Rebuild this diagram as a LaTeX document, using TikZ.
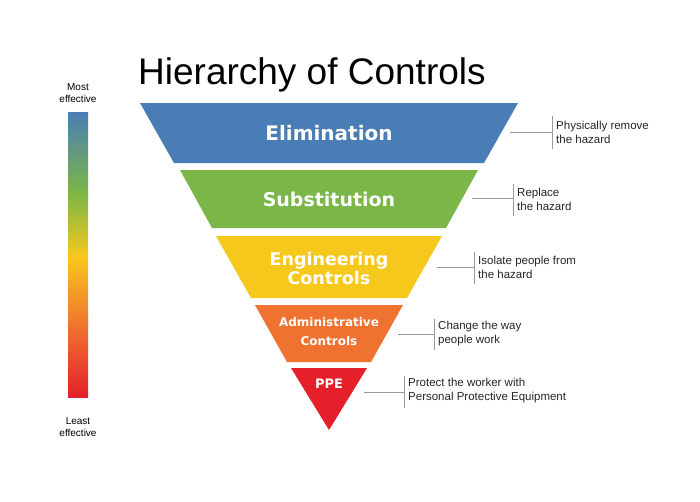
\documentclass[tikz,border=0pt]{standalone}
\usepackage{fontspec}
\setmainfont{Liberation Sans}
\newfontfamily\lvlfont{DejaVu Sans}
\definecolor{cblue}{HTML}{4A7DB5}
\definecolor{cgreen}{HTML}{7AB648}
\definecolor{cyellow}{HTML}{F7C81C}
\definecolor{corange}{HTML}{EF7230}
\definecolor{cred}{HTML}{E5202A}
\definecolor{lgray}{HTML}{9A9A9A}
\tikzset{x=1pt,y=-1pt,
 lvl/.style={text=white,align=center,inner sep=0},
 note/.style={anchor=west,align=left,font=\fontsize{11.5}{14}\selectfont,inner sep=0,text=black!85},
 con/.style={draw=lgray,line width=0.8pt}}
\begin{document}
\begin{tikzpicture}
\useasboundingbox (0,0) rectangle (700,501);
\fill[white] (0,0) rectangle (700,501);
\node[anchor=west,font=\fontsize{37}{39}\selectfont,inner sep=0] (title) at (138,75) {Hierarchy of Controls};
\node[font=\fontsize{10}{12}\selectfont,align=center,inner sep=0] (most) at (78,93) {Most\\effective};
\node[font=\fontsize{10}{12}\selectfont,align=center,inner sep=0] (least) at (78,427) {Least\\effective};
\shade[top color=cblue,bottom color=cgreen] (68,112) rectangle (88,192);
\shade[top color=cgreen,bottom color=cyellow] (68,191.5) rectangle (88,257);
\shade[top color=cyellow,bottom color=corange] (68,256.5) rectangle (88,327);
\shade[top color=corange,bottom color=cred] (68,326.5) rectangle (88,397);
% layers
\fill[cblue] (140,103) -- (518,103) -- (484,163) -- (174,163) -- cycle;
\fill[cgreen] (180,170) -- (478,170) -- (446,228) -- (212,228) -- cycle;
\fill[cyellow] (216,236) -- (442,236) -- (407,298) -- (251,298) -- cycle;
\fill[corange] (255,305) -- (403,305) -- (371,362) -- (287,362) -- cycle;
\fill[cred] (291,368) -- (367,368) -- (329,430) -- cycle;
\node[lvl,font=\lvlfont\bfseries\fontsize{20}{23}\selectfont] (elim) at (329,133) {Elimination};
\node[lvl,font=\lvlfont\bfseries\fontsize{19}{22}\selectfont] (subs) at (329,199) {Substitution};
\node[lvl,font=\lvlfont\bfseries\fontsize{17.5}{19}\selectfont] (eng) at (329,268) {Engineering\\Controls};
\node[lvl,font=\lvlfont\bfseries\fontsize{12}{19}\selectfont] (adm) at (329,332) {Administrative\\Controls};
\node[lvl,font=\lvlfont\bfseries\fontsize{13}{15}\selectfont] (ppe) at (329,384) {PPE};
% notes
\coordinate (e1) at (510,132); \coordinate (e2) at (552,132);
\coordinate (s1) at (472,198); \coordinate (s2) at (513,198);
\coordinate (g1) at (437,267); \coordinate (g2) at (474,267);
\coordinate (a1) at (398,334); \coordinate (a2) at (434,334);
\coordinate (p1) at (364,392); \coordinate (p2) at (404,392);
\draw[con] (e1) -- (e2) (552,116) -- (552,149);
\draw[con] (s1) -- (s2) (513,184) -- (513,216);
\draw[con] (g1) -- (g2) (474,252) -- (474,284);
\draw[con] (a1) -- (a2) (434,319) -- (434,350);
\draw[con] (p1) -- (p2) (404,376) -- (404,408);
\node[note] (ne) at (556,132) {Physically remove\\the hazard};
\node[note] (ns) at (517,199) {Replace\\the hazard};
\node[note] (ng) at (478,267) {Isolate people from\\the hazard};
\node[note] (na) at (438,334) {Change the way\\people work};
\node[note] (np) at (408,391) {Protect the worker with\\Personal Protective Equipment};
\end{tikzpicture}
\end{document}
